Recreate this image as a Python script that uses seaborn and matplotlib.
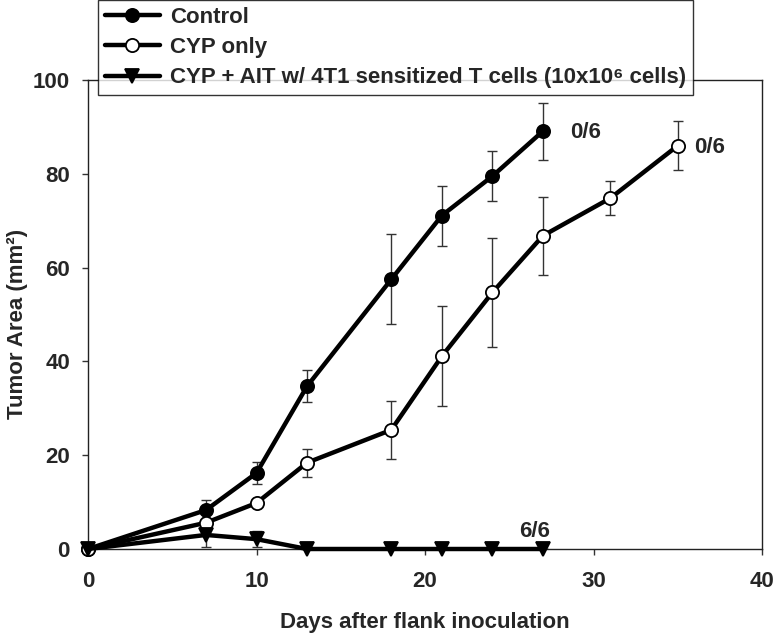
import matplotlib
matplotlib.use("Agg")
import matplotlib.pyplot as plt
import seaborn as sns
import pandas as pd
import numpy as np

# Data
days_control = [0, 7, 10, 13, 18, 21, 24, 27]
control_mean = [0, 8.3, 16.2, 34.7, 57.5, 71.1, 79.5, 89.1]
control_err = [0, 2.2, 2.4, 3.4, 9.6, 6.4, 5.3, 6.1]

days_cyp = [0, 7, 10, 13, 18, 21, 24, 27, 31, 35]
cyp_mean = [0, 5.6, 9.8, 18.4, 25.4, 41.1, 54.7, 66.8, 74.8, 86.0]
cyp_err = [0, 1.8, 0.6, 3.0, 6.2, 10.7, 11.6, 8.3, 3.6, 5.2]

days_ait = [0, 7, 10, 13, 18, 21, 24, 27]
ait_mean = [0, 3.0, 2.1, 0, 0, 0, 0, 0]
ait_err = [0, 2.6, 1.7, 0, 0, 0, 0, 0]

labels = ["Control", "CYP only", "CYP + AIT w/ 4T1 sensitized T cells (10x10\u2076 cells)"]
x_ticks = [0, 10, 20, 30, 40]
y_ticks = [0, 20, 40, 60, 80, 100]
survivors = ["0/6", "0/6", "6/6"]

sns.set_style("ticks")
plt.rcParams['font.family'] = ['Liberation Sans', 'DejaVu Sans']
plt.rcParams['font.weight'] = 'bold'

FS = 16

fig = plt.figure(figsize=(7.74, 6.36), dpi=100)
ax = fig.add_axes([88 / 774, 1 - 549 / 636, 674 / 774, 469 / 636])

series = [
    (days_control, control_mean, control_err, labels[0], 'o', 'black'),
    (days_cyp, cyp_mean, cyp_err, labels[1], 'o', 'white'),
    (days_ait, ait_mean, ait_err, labels[2], 'v', 'black'),
]

for d, m, e, lab, mk, fc in series:
    ax.errorbar(d, m, yerr=e, fmt='none', ecolor='#333333', elinewidth=1.0,
                capsize=3.6, capthick=1.0, zorder=2)

for d, m, e, lab, mk, fc in series:
    df = pd.DataFrame({"day": d, "area": m})
    sns.lineplot(data=df, x="day", y="area", ax=ax, color='black', linewidth=3.2,
                 marker=mk, markersize=9.5 if mk == 'o' else 10.5, markerfacecolor=fc,
                 markeredgecolor='black', markeredgewidth=1.3, label=lab, zorder=3,
                 clip_on=False)

ax.set_xlim(0, 40)
ax.set_ylim(0, 100)
ax.set_xticks(x_ticks)
ax.set_yticks(y_ticks)
ax.tick_params(axis='both', labelsize=FS, width=1, length=4.5, direction='out', color='#333333')
ax.tick_params(axis='y', pad=8.5)
ax.tick_params(axis='x', pad=11)
for lbl in ax.get_xticklabels() + ax.get_yticklabels():
    lbl.set_fontweight('bold')
for sp in ax.spines.values():
    sp.set_visible(True)
    sp.set_linewidth(1.0)
    sp.set_color('#222222')

xl = ax.set_xlabel("Days after flank inoculation", fontsize=FS, fontweight='bold')
xl.set_va('baseline')
ax.xaxis.set_label_coords(0.5, (549 - 628) / 469)
ax.set_ylabel("Tumor Area (mm\u00b2)", fontsize=FS, fontweight='bold')
ax.yaxis.set_label_coords((28 - 88) / 674, 0.48)

ax.text(28.6, 88.7, survivors[0], fontsize=FS, fontweight='bold', va='center', ha='left')
ax.text(36.0, 85.6, survivors[1], fontsize=FS, fontweight='bold', va='center', ha='left')
ax.text(26.5, 3.8, survivors[2], fontsize=FS, fontweight='bold', va='center', ha='center')

leg = ax.legend(loc='upper left', bbox_to_anchor=(98 / 774, 1.0), bbox_transform=fig.transFigure,
                frameon=True, fancybox=False, edgecolor='black', fontsize=FS,
                handlelength=2.5, handletextpad=0.45, labelspacing=0.42, borderpad=0.3,
                borderaxespad=0)
leg.get_frame().set_linewidth(1.0)
leg.set_zorder(10)
for t in leg.get_texts():
    t.set_fontweight('bold')

fig.savefig("out.png", dpi=100)
